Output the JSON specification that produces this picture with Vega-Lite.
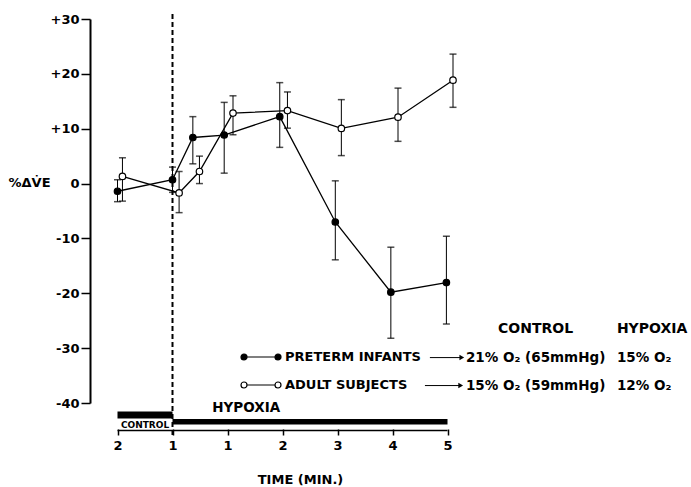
{
  "$schema": "https://vega.github.io/schema/vega-lite/v6.json",
  "width": 374,
  "height": 384,
  "padding": {"left": 8, "top": 13, "right": 0, "bottom": 0},
  "autosize": {"type": "pad"},
  "background": "white",
  "config": {"view": {"stroke": null}, "font": "DejaVu Sans"},
  "datasets": {
    "series": [
      {"group": "PRETERM INFANTS", "t": -1.0, "v": -1.4, "lo": -3.3, "hi": 0.7},
      {"group": "PRETERM INFANTS", "t": 0.0, "v": 0.7, "lo": -1.6, "hi": 3.0},
      {"group": "PRETERM INFANTS", "t": 0.37, "v": 8.4, "lo": 3.6, "hi": 12.2},
      {"group": "PRETERM INFANTS", "t": 0.94, "v": 8.85, "lo": 1.9, "hi": 14.8},
      {"group": "PRETERM INFANTS", "t": 1.95, "v": 12.2, "lo": 6.6, "hi": 18.4},
      {"group": "PRETERM INFANTS", "t": 2.96, "v": -7.0, "lo": -13.9, "hi": 0.5},
      {"group": "PRETERM INFANTS", "t": 3.97, "v": -19.8, "lo": -28.2, "hi": -11.6},
      {"group": "PRETERM INFANTS", "t": 4.98, "v": -18.05, "lo": -25.6, "hi": -9.6},
      {"group": "ADULT SUBJECTS", "t": -0.91, "v": 1.3, "lo": -3.2, "hi": 4.7},
      {"group": "ADULT SUBJECTS", "t": 0.12, "v": -1.7, "lo": -5.3, "hi": 2.2},
      {"group": "ADULT SUBJECTS", "t": 0.49, "v": 2.2, "lo": 0.0, "hi": 5.0},
      {"group": "ADULT SUBJECTS", "t": 1.1, "v": 12.85, "lo": 8.9, "hi": 16.0},
      {"group": "ADULT SUBJECTS", "t": 2.09, "v": 13.3, "lo": 10.1, "hi": 16.7},
      {"group": "ADULT SUBJECTS", "t": 3.07, "v": 10.05, "lo": 5.1, "hi": 15.3},
      {"group": "ADULT SUBJECTS", "t": 4.1, "v": 12.1, "lo": 7.7, "hi": 17.4},
      {"group": "ADULT SUBJECTS", "t": 5.1, "v": 18.85, "lo": 13.9, "hi": 23.6}
    ],
    "phases": [
      {"phase": "CONTROL", "start": -1, "end": 0},
      {"phase": "HYPOXIA", "start": 0, "end": 5}
    ],
    "notes": [
      {"kind": "header", "label": "CONTROL", "t": 5.92, "v": -26.6},
      {"kind": "header", "label": "HYPOXIA", "t": 8.08, "v": -26.6},
      {"kind": "row", "label": "21% O₂ (65mmHg)", "t": 5.336, "v": -31.72},
      {"kind": "row", "label": "15% O₂", "t": 8.08, "v": -31.72},
      {"kind": "row", "label": "15% O₂ (59mmHg)", "t": 5.336, "v": -36.82},
      {"kind": "row", "label": "12% O₂", "t": 8.08, "v": -36.82},
      {"kind": "phase", "label": "HYPOXIA", "t": 1.34, "v": -40.83},
      {"kind": "small", "label": "CONTROL", "t": -0.5, "v": -43.93}
    ],
    "arrows": [
      {"row": "PRETERM INFANTS", "from": 4.68, "to": 5.26, "v": -31.72},
      {"row": "ADULT SUBJECTS", "from": 4.59, "to": 5.24, "v": -36.82}
    ]
  },
  "layer": [
    {
      "data": {"name": "series"},
      "mark": {"type": "line", "color": "black", "strokeWidth": 1.3},
      "encoding": {
        "x": {
          "field": "t", "type": "quantitative", "title": "TIME (MIN.)",
          "scale": {"domain": [-1.5, 5.3], "nice": false, "zero": false},
          "axis": {
            "values": [-1, 0, 1, 2, 3, 4, 5],
            "labelExpr": "datum.value == -1 ? '2' : (datum.value == 0 ? '1' : '' + datum.value)",
            "domain": false, "grid": false, "offset": 26,
            "tickSize": 6, "tickWidth": 1.5, "tickColor": "black",
            "labelPadding": 4, "labelFontSize": 13, "labelFontWeight": "bold", "labelColor": "black",
            "titleFontSize": 13, "titleFontWeight": "bold", "titleColor": "black",
            "titleX": 210, "titleY": 50, "titleBaseline": "middle", "titleAlign": "center"
          }
        },
        "y": {
          "field": "v", "type": "quantitative", "title": "%ΔV̇E",
          "scale": {"domain": [-40, 30], "nice": false, "zero": false},
          "axis": {
            "values": [-40, -30, -20, -10, 0, 10, 20, 30],
            "labelExpr": "datum.value > 0 ? '+' + datum.value : '' + datum.value",
            "titleAngle": 0, "titleX": -82, "titleY": 163, "titleAlign": "left", "titleBaseline": "middle",
            "titleFontSize": 13, "titleFontWeight": "bold", "titleColor": "black",
            "domainWidth": 2, "domainColor": "black", "grid": false,
            "tickSize": 9, "tickWidth": 1.5, "tickColor": "black",
            "labelPadding": 2, "labelFontSize": 13, "labelFontWeight": "bold", "labelColor": "black"
          }
        },
        "detail": {"field": "group"}
      }
    },
    {
      "data": {"name": "series"},
      "mark": {"type": "errorbar", "ticks": {"size": 7, "thickness": 1.5, "color": "black"}, "rule": {"strokeWidth": 1, "color": "black"}},
      "encoding": {
        "x": {"field": "t", "type": "quantitative", "title": "TIME (MIN.)"},
        "y": {"field": "lo", "type": "quantitative", "title": "%ΔV̇E"},
        "y2": {"field": "hi"}
      }
    },
    {
      "data": {"name": "series"},
      "mark": {"type": "point", "filled": true, "stroke": "black", "strokeWidth": 1.2, "size": 42, "opacity": 1},
      "encoding": {
        "x": {"field": "t", "type": "quantitative", "title": "TIME (MIN.)"},
        "y": {"field": "v", "type": "quantitative", "title": "%ΔV̇E"},
        "fill": {
          "field": "group", "type": "nominal",
          "scale": {"domain": ["PRETERM INFANTS", "ADULT SUBJECTS"], "range": ["black", "white"]},
          "legend": {
            "orient": "none", "legendX": 150, "legendY": 317, "title": null,
            "symbolType": "M -0.7 0 L 0.7 0 M -1 0 A 0.15 0.15 0 1 1 -0.7 0 A 0.15 0.15 0 1 1 -1 0 Z M 0.7 0 A 0.15 0.15 0 1 1 1 0 A 0.15 0.15 0 1 1 0.7 0 Z",
            "symbolSize": 1600, "symbolStrokeColor": "black", "symbolStrokeWidth": 1.2,
            "labelFontSize": 13, "labelFontWeight": "bold", "labelColor": "black", "labelOffset": 3,
            "rowPadding": -12, "padding": 0
          }
        }
      }
    },
    {
      "mark": {"type": "rule", "color": "black", "strokeWidth": 1},
      "encoding": {
        "x": {"datum": -1.5, "type": "quantitative"},
        "x2": {"datum": 5.1},
        "y": {"datum": 0.0001, "type": "quantitative"}
      }
    },
    {
      "data": {"name": "phases"},
      "transform": [{"filter": "datum.phase == 'HYPOXIA'"}],
      "mark": {"type": "rule", "color": "black", "strokeWidth": 2, "strokeDash": [5, 3]},
      "encoding": {
        "x": {"field": "start", "type": "quantitative"},
        "y": {"datum": 30.9, "type": "quantitative"},
        "y2": {"datum": -45.9}
      }
    },
    {
      "data": {"name": "phases"},
      "transform": [{"filter": "datum.phase == 'CONTROL'"}],
      "mark": {"type": "rect", "color": "black"},
      "encoding": {
        "x": {"field": "start", "type": "quantitative"},
        "x2": {"field": "end"},
        "y": {"datum": -41.56, "type": "quantitative"},
        "y2": {"datum": -42.84}
      }
    },
    {
      "data": {"name": "phases"},
      "transform": [{"filter": "datum.phase == 'HYPOXIA'"}],
      "mark": {"type": "rect", "color": "black"},
      "encoding": {
        "x": {"field": "start", "type": "quantitative"},
        "x2": {"field": "end"},
        "y": {"datum": -42.93, "type": "quantitative"},
        "y2": {"datum": -43.93}
      }
    },
    {
      "data": {"name": "phases"},
      "mark": {"type": "rule", "color": "black", "strokeWidth": 1.5},
      "encoding": {
        "x": {"field": "start", "type": "quantitative"},
        "x2": {"field": "end"},
        "y": {"datum": -45.02, "type": "quantitative"}
      }
    },
    {
      "data": {"name": "arrows"},
      "mark": {"type": "rule", "color": "black", "strokeWidth": 1},
      "encoding": {
        "x": {"field": "from", "type": "quantitative"},
        "x2": {"field": "to"},
        "y": {"field": "v", "type": "quantitative"}
      }
    },
    {
      "data": {"name": "arrows"},
      "mark": {"type": "point", "shape": "triangle-right", "filled": true, "color": "black", "size": 30, "opacity": 1},
      "encoding": {
        "x": {"field": "to", "type": "quantitative"},
        "y": {"field": "v", "type": "quantitative"}
      }
    },
    {
      "data": {"name": "notes"},
      "transform": [{"filter": "datum.kind == 'header'"}],
      "mark": {"type": "text", "align": "left", "baseline": "middle", "fontSize": 14, "fontWeight": "bold", "color": "black"},
      "encoding": {
        "x": {"field": "t", "type": "quantitative"},
        "y": {"field": "v", "type": "quantitative"},
        "text": {"field": "label"}
      }
    },
    {
      "data": {"name": "notes"},
      "transform": [{"filter": "datum.kind == 'row'"}],
      "mark": {"type": "text", "align": "left", "baseline": "middle", "fontSize": 13.5, "fontWeight": "bold", "color": "black"},
      "encoding": {
        "x": {"field": "t", "type": "quantitative"},
        "y": {"field": "v", "type": "quantitative"},
        "text": {"field": "label"}
      }
    },
    {
      "data": {"name": "notes"},
      "transform": [{"filter": "datum.kind == 'phase'"}],
      "mark": {"type": "text", "align": "center", "baseline": "middle", "fontSize": 13.5, "fontWeight": "bold", "color": "black"},
      "encoding": {
        "x": {"field": "t", "type": "quantitative"},
        "y": {"field": "v", "type": "quantitative"},
        "text": {"field": "label"}
      }
    },
    {
      "data": {"name": "notes"},
      "transform": [{"filter": "datum.kind == 'small'"}],
      "mark": {"type": "text", "align": "center", "baseline": "middle", "fontSize": 9, "fontWeight": "bold", "color": "black"},
      "encoding": {
        "x": {"field": "t", "type": "quantitative"},
        "y": {"field": "v", "type": "quantitative"},
        "text": {"field": "label"}
      }
    }
  ]
}
